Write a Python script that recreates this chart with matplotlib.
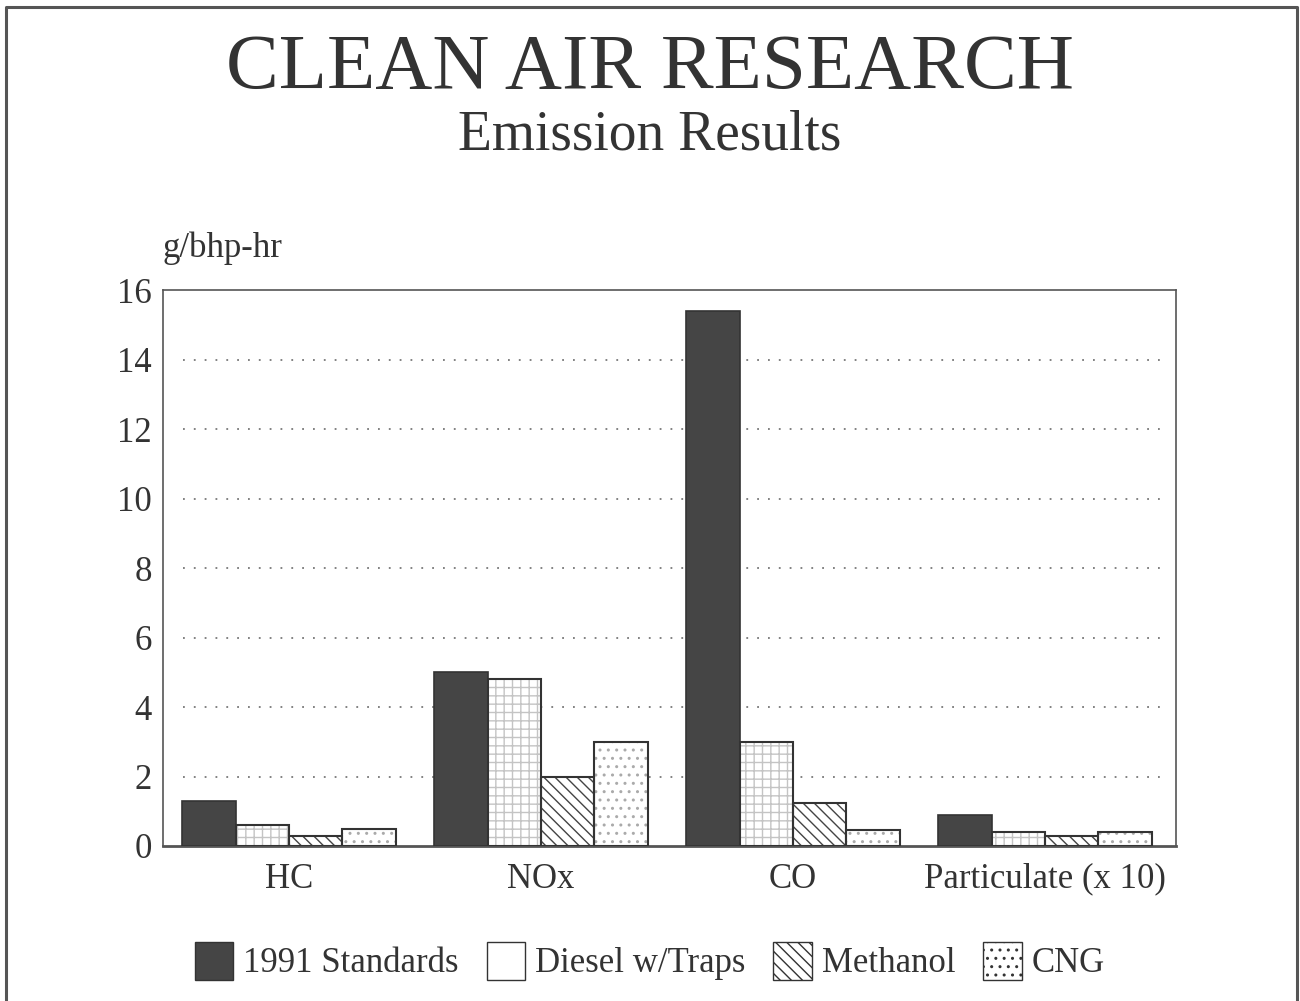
import matplotlib
matplotlib.use("Agg")
import matplotlib.pyplot as plt
import numpy as np
from matplotlib.patches import Patch
from matplotlib.lines import Line2D

categories = ["HC", "NOx", "CO", "Particulate (x 10)"]
series_names = ["1991 Standards", "Diesel w/Traps", "Methanol", "CNG"]
standards_1991 = [1.3, 5.0, 15.4, 0.9]
diesel_traps = [0.6, 4.8, 3.0, 0.4]
methanol = [0.3, 2.0, 1.25, 0.3]
cng = [0.5, 3.0, 0.45, 0.4]
yticks = [0, 2, 4, 6, 8, 10, 12, 14, 16]

plt.rcParams['font.family'] = ['Liberation Serif', 'DejaVu Serif']
plt.rcParams['hatch.linewidth'] = 1.0

txt = '#333333'
dark = '#454545'

fig = plt.figure(figsize=(13, 10.01), dpi=100)
ax = fig.add_axes([163/1300, 1-846/1001, (1176-163)/1300, (846-290)/1001])

x = np.arange(len(categories))
w = 0.212
offsets = [-1.5*w, -0.5*w, 0.5*w, 1.5*w]
series = [standards_1991, diesel_traps, methanol, cng]
styles = [
    dict(face=dark, hatch=None, hcol=dark),
    dict(face='white', hatch='++', hcol='#c4c4c4'),
    dict(face='white', hatch='\\\\\\', hcol='#444444'),
    dict(face='white', hatch='..', hcol='#aaaaaa'),
]
for vals, off, st in zip(series, offsets, styles):
    if st['hatch']:
        ax.bar(x+off, vals, w, color=st['face'], hatch=st['hatch'],
               edgecolor=st['hcol'], linewidth=0, zorder=2)
        ax.bar(x+off, vals, w, fill=False, edgecolor='#333333', linewidth=1.5, zorder=3)
    else:
        ax.bar(x+off, vals, w, color=st['face'], edgecolor='#333333', linewidth=1.2, zorder=3)

ax.set_xlim(-0.5, 3.52)
ax.set_ylim(0, 16)
ax.set_yticks(yticks)
ax.set_yticklabels([str(v) for v in yticks], fontsize=25, color=txt)
ax.set_xticks(x)
ax.set_xticklabels(categories, fontsize=25, color=txt)
ax.tick_params(axis='x', length=0, pad=12)
ax.tick_params(axis='y', length=0, pad=8)
for v in yticks[1:-1]:
    ax.axhline(v, xmin=0.02, xmax=0.985, color='#777777', linestyle=(0, (1, 5)), linewidth=1.3, zorder=1)
for s in ax.spines.values():
    s.set_color('#555555')
    s.set_linewidth(1.2)
ax.spines['bottom'].set_linewidth(2)

fig.text(650/1300, 1-69/1001, "CLEAN AIR RESEARCH", ha='center', va='center', fontsize=57, color=txt)
fig.text(650/1300, 1-135/1001, "Emission Results", ha='center', va='center', fontsize=40, color=txt)
fig.text(163/1300, 1-248/1001, "g/bhp-hr", ha='left', va='center', fontsize=25, color=txt)

# page border (left, top, right)
fig.add_artist(Line2D([6/1300, 6/1300, 1297/1300, 1297/1300],
                      [1-999/1001, 1-7/1001, 1-7/1001, 1-999/1001],
                      transform=fig.transFigure, color='#555555', linewidth=2.2))

handles = [
    Patch(facecolor=dark, edgecolor='#333333'),
    Patch(facecolor='white', edgecolor='#333333', hatch=None),
    Patch(facecolor='white', edgecolor='#333333', hatch='\\\\\\'),
    Patch(facecolor='white', edgecolor='#333333', hatch='..'),
]
fig.legend(handles, series_names, loc='center', bbox_to_anchor=(650/1300, 1-961/1001),
           ncol=4, frameon=False, fontsize=25, handlelength=1.1, handleheight=1.3,
           handletextpad=0.3, columnspacing=0.8, labelcolor=txt)

fig.savefig("out.png", dpi=100, facecolor='white')
